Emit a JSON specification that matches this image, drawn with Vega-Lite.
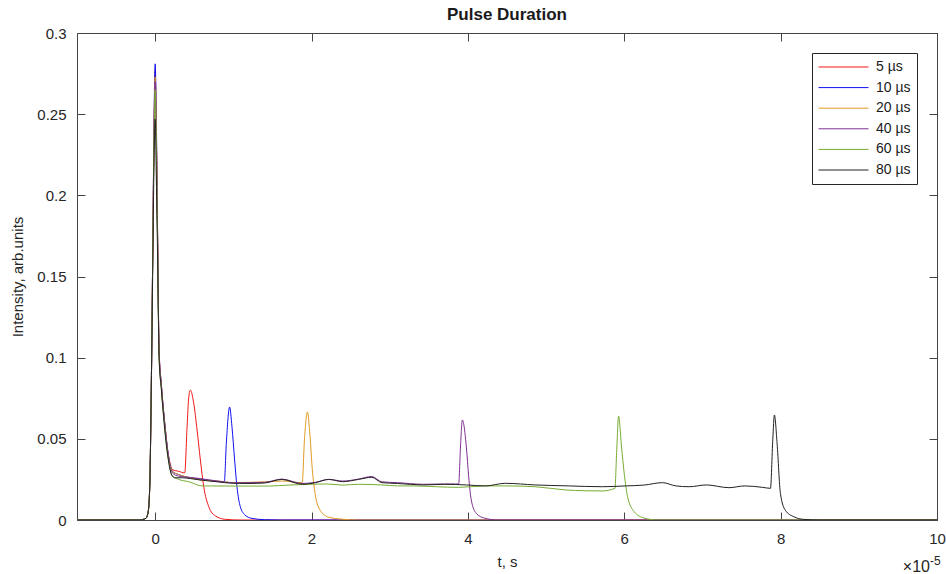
{
  "$schema": "https://vega.github.io/schema/vega-lite/v6.json",
  "width": 860,
  "height": 487,
  "autosize": {"type": "none"},
  "padding": {"left": 77, "top": 33, "right": 9, "bottom": 54},
  "background": "white",
  "title": {"text": "Pulse Duration", "fontSize": 17, "fontWeight": "bold", "font": "Liberation Sans", "color": "#1a1a1a", "anchor": "middle", "frame": "group", "offset": 2},
  "config": {
    "view": {"stroke": null},
    "font": "Liberation Sans",
    "axis": {
      "grid": false,
      "domainColor": "#444444",
      "domainWidth": 1,
      "tickColor": "#444444",
      "tickSize": -8,
      "tickWidth": 1,
      "labelColor": "#262626",
      "labelFont": "Liberation Sans",
      "labelFontSize": 15,
      "titleColor": "#262626",
      "titleFont": "Liberation Sans",
      "titleFontSize": 15,
      "titleFontWeight": "normal"
    }
  },
  "datasets": {
    "pulses": [
      {"s":"5 µs","t":-10,"v":0},{"s":"5 µs","t":-2,"v":0},{"s":"5 µs","t":-1.2,"v":0.001},{"s":"5 µs","t":-0.9,"v":0.005},{"s":"5 µs","t":-0.7,"v":0.02},{"s":"5 µs","t":-0.5,"v":0.08},{"s":"5 µs","t":-0.3,"v":0.17},{"s":"5 µs","t":-0.15,"v":0.24},{"s":"5 µs","t":0,"v":0.277},{"s":"5 µs","t":0.15,"v":0.24},{"s":"5 µs","t":0.3,"v":0.18},{"s":"5 µs","t":0.5,"v":0.105},{"s":"5 µs","t":0.8,"v":0.083},{"s":"5 µs","t":1.0,"v":0.071},{"s":"5 µs","t":1.3,"v":0.056},{"s":"5 µs","t":1.6,"v":0.043},{"s":"5 µs","t":1.9,"v":0.035},{"s":"5 µs","t":2.2,"v":0.031},{"s":"5 µs","t":3.0,"v":0.030},{"s":"5 µs","t":3.78,"v":0.029},{"s":"5 µs","t":4.08,"v":0.0575},{"s":"5 µs","t":4.3,"v":0.076},{"s":"5 µs","t":4.5,"v":0.080},{"s":"5 µs","t":4.93,"v":0.0719},{"s":"5 µs","t":5.36,"v":0.0554},{"s":"5 µs","t":5.78,"v":0.037},{"s":"5 µs","t":6.21,"v":0.0205},{"s":"5 µs","t":6.85,"v":0.0082},{"s":"5 µs","t":7.7,"v":0.0025},{"s":"5 µs","t":8.97,"v":0.0004},{"s":"5 µs","t":11,"v":0},{"s":"5 µs","t":100,"v":0},

      {"s":"10 µs","t":-10,"v":0},{"s":"10 µs","t":-2,"v":0},{"s":"10 µs","t":-1.2,"v":0.001},{"s":"10 µs","t":-0.9,"v":0.005},{"s":"10 µs","t":-0.7,"v":0.02},{"s":"10 µs","t":-0.5,"v":0.08},{"s":"10 µs","t":-0.3,"v":0.17},{"s":"10 µs","t":-0.15,"v":0.245},{"s":"10 µs","t":0,"v":0.281},{"s":"10 µs","t":0.15,"v":0.245},{"s":"10 µs","t":0.3,"v":0.18},{"s":"10 µs","t":0.5,"v":0.105},{"s":"10 µs","t":0.8,"v":0.083},{"s":"10 µs","t":1.0,"v":0.071},{"s":"10 µs","t":1.3,"v":0.056},{"s":"10 µs","t":1.6,"v":0.043},{"s":"10 µs","t":1.9,"v":0.034},{"s":"10 µs","t":2.2,"v":0.030},{"s":"10 µs","t":3.0,"v":0.028},{"s":"10 µs","t":4.5,"v":0.026},{"s":"10 µs","t":6,"v":0.025},{"s":"10 µs","t":7.5,"v":0.024},{"s":"10 µs","t":8.84,"v":0.0235},{"s":"10 µs","t":9.1,"v":0.0472},{"s":"10 µs","t":9.52,"v":0.0696},{"s":"10 µs","t":9.82,"v":0.0575},{"s":"10 µs","t":10.16,"v":0.037},{"s":"10 µs","t":10.46,"v":0.0205},{"s":"10 µs","t":10.89,"v":0.0082},{"s":"10 µs","t":11.5,"v":0.003},{"s":"10 µs","t":12.37,"v":0.001},{"s":"10 µs","t":14,"v":0.0002},{"s":"10 µs","t":16,"v":0},{"s":"10 µs","t":100,"v":0},

      {"s":"20 µs","t":-10,"v":0},{"s":"20 µs","t":-2,"v":0},{"s":"20 µs","t":-1.2,"v":0.001},{"s":"20 µs","t":-0.9,"v":0.005},{"s":"20 µs","t":-0.7,"v":0.02},{"s":"20 µs","t":-0.5,"v":0.08},{"s":"20 µs","t":-0.3,"v":0.17},{"s":"20 µs","t":-0.15,"v":0.238},{"s":"20 µs","t":0,"v":0.273},{"s":"20 µs","t":0.15,"v":0.238},{"s":"20 µs","t":0.3,"v":0.178},{"s":"20 µs","t":0.5,"v":0.104},{"s":"20 µs","t":0.8,"v":0.082},{"s":"20 µs","t":1.0,"v":0.07},{"s":"20 µs","t":1.3,"v":0.055},{"s":"20 µs","t":1.6,"v":0.042},{"s":"20 µs","t":1.9,"v":0.034},{"s":"20 µs","t":2.2,"v":0.030},{"s":"20 µs","t":3,"v":0.028},{"s":"20 µs","t":4.5,"v":0.026},{"s":"20 µs","t":6,"v":0.0245},{"s":"20 µs","t":8,"v":0.024},{"s":"20 µs","t":10,"v":0.023},{"s":"20 µs","t":12,"v":0.0232},{"s":"20 µs","t":14,"v":0.0235},{"s":"20 µs","t":16.2,"v":0.024},{"s":"20 µs","t":18.8,"v":0.023},{"s":"20 µs","t":19.1,"v":0.05},{"s":"20 µs","t":19.47,"v":0.0665},{"s":"20 µs","t":19.8,"v":0.052},{"s":"20 µs","t":20.1,"v":0.031},{"s":"20 µs","t":20.45,"v":0.0164},{"s":"20 µs","t":21.1,"v":0.006},{"s":"20 µs","t":22.15,"v":0.0018},{"s":"20 µs","t":23.9,"v":0.0005},{"s":"20 µs","t":26,"v":0},{"s":"20 µs","t":100,"v":0},

      {"s":"40 µs","t":-10,"v":0},{"s":"40 µs","t":-2,"v":0},{"s":"40 µs","t":-1.2,"v":0.001},{"s":"40 µs","t":-0.9,"v":0.005},{"s":"40 µs","t":-0.7,"v":0.02},{"s":"40 µs","t":-0.5,"v":0.08},{"s":"40 µs","t":-0.3,"v":0.17},{"s":"40 µs","t":-0.15,"v":0.235},{"s":"40 µs","t":0,"v":0.27},{"s":"40 µs","t":0.15,"v":0.235},{"s":"40 µs","t":0.3,"v":0.175},{"s":"40 µs","t":0.5,"v":0.103},{"s":"40 µs","t":0.8,"v":0.082},{"s":"40 µs","t":1.0,"v":0.07},{"s":"40 µs","t":1.3,"v":0.055},{"s":"40 µs","t":1.6,"v":0.042},{"s":"40 µs","t":1.9,"v":0.034},{"s":"40 µs","t":2.2,"v":0.029},{"s":"40 µs","t":3,"v":0.027},{"s":"40 µs","t":5,"v":0.026},{"s":"40 µs","t":8,"v":0.024},{"s":"40 µs","t":10,"v":0.023},{"s":"40 µs","t":12,"v":0.023},{"s":"40 µs","t":14,"v":0.0232},{"s":"40 µs","t":16.2,"v":0.0252},{"s":"40 µs","t":18.8,"v":0.0225},{"s":"40 µs","t":20.5,"v":0.0232},{"s":"40 µs","t":22.2,"v":0.025},{"s":"40 µs","t":24,"v":0.024},{"s":"40 µs","t":26,"v":0.0252},{"s":"40 µs","t":27.7,"v":0.0268},{"s":"40 µs","t":29,"v":0.0235},{"s":"40 µs","t":31,"v":0.023},{"s":"40 µs","t":34.3,"v":0.022},{"s":"40 µs","t":37,"v":0.0222},{"s":"40 µs","t":38.82,"v":0.0222},{"s":"40 µs","t":39.05,"v":0.045},{"s":"40 µs","t":39.29,"v":0.0616},{"s":"40 µs","t":39.8,"v":0.045},{"s":"40 µs","t":40.1,"v":0.0267},{"s":"40 µs","t":40.43,"v":0.0123},{"s":"40 µs","t":41.07,"v":0.0041},{"s":"40 µs","t":42.1,"v":0.0012},{"s":"40 µs","t":43.8,"v":0},{"s":"40 µs","t":100,"v":0},

      {"s":"60 µs","t":-10,"v":0},{"s":"60 µs","t":-2,"v":0},{"s":"60 µs","t":-1.2,"v":0.001},{"s":"60 µs","t":-0.9,"v":0.005},{"s":"60 µs","t":-0.7,"v":0.02},{"s":"60 µs","t":-0.5,"v":0.08},{"s":"60 µs","t":-0.3,"v":0.17},{"s":"60 µs","t":-0.15,"v":0.23},{"s":"60 µs","t":0,"v":0.265},{"s":"60 µs","t":0.15,"v":0.23},{"s":"60 µs","t":0.3,"v":0.172},{"s":"60 µs","t":0.5,"v":0.1},{"s":"60 µs","t":0.8,"v":0.08},{"s":"60 µs","t":1.0,"v":0.068},{"s":"60 µs","t":1.3,"v":0.053},{"s":"60 µs","t":1.6,"v":0.04},{"s":"60 µs","t":1.9,"v":0.032},{"s":"60 µs","t":2.1,"v":0.028},{"s":"60 µs","t":3,"v":0.025},{"s":"60 µs","t":4.3,"v":0.0236},{"s":"60 µs","t":6,"v":0.021},{"s":"60 µs","t":10,"v":0.0209},{"s":"60 µs","t":14.5,"v":0.0209},{"s":"60 µs","t":17,"v":0.0215},{"s":"60 µs","t":19.7,"v":0.022},{"s":"60 µs","t":22,"v":0.0222},{"s":"60 µs","t":24,"v":0.0215},{"s":"60 µs","t":26,"v":0.022},{"s":"60 µs","t":28.95,"v":0.0216},{"s":"60 µs","t":31,"v":0.021},{"s":"60 µs","t":33,"v":0.021},{"s":"60 µs","t":36,"v":0.0205},{"s":"60 µs","t":38.8,"v":0.0201},{"s":"60 µs","t":42.2,"v":0.021},{"s":"60 µs","t":45,"v":0.021},{"s":"60 µs","t":48.6,"v":0.0205},{"s":"60 µs","t":52.5,"v":0.0185},{"s":"60 µs","t":55,"v":0.018},{"s":"60 µs","t":57.2,"v":0.0179},{"s":"60 µs","t":58.8,"v":0.0195},{"s":"60 µs","t":59.05,"v":0.045},{"s":"60 µs","t":59.27,"v":0.064},{"s":"60 µs","t":59.65,"v":0.045},{"s":"60 µs","t":59.99,"v":0.0288},{"s":"60 µs","t":60.42,"v":0.0144},{"s":"60 µs","t":61.27,"v":0.0051},{"s":"60 µs","t":62.54,"v":0.0012},{"s":"60 µs","t":64.25,"v":0},{"s":"60 µs","t":100,"v":0},

      {"s":"80 µs","t":-10,"v":0},{"s":"80 µs","t":-2,"v":0},{"s":"80 µs","t":-1.2,"v":0.001},{"s":"80 µs","t":-0.9,"v":0.005},{"s":"80 µs","t":-0.7,"v":0.02},{"s":"80 µs","t":-0.5,"v":0.08},{"s":"80 µs","t":-0.3,"v":0.16},{"s":"80 µs","t":-0.15,"v":0.22},{"s":"80 µs","t":0,"v":0.247},{"s":"80 µs","t":0.15,"v":0.21},{"s":"80 µs","t":0.3,"v":0.165},{"s":"80 µs","t":0.5,"v":0.1},{"s":"80 µs","t":0.8,"v":0.08},{"s":"80 µs","t":1.0,"v":0.068},{"s":"80 µs","t":1.3,"v":0.052},{"s":"80 µs","t":1.6,"v":0.04},{"s":"80 µs","t":1.9,"v":0.031},{"s":"80 µs","t":2.2,"v":0.027},{"s":"80 µs","t":2.5,"v":0.026},{"s":"80 µs","t":3.5,"v":0.026},{"s":"80 µs","t":4.5,"v":0.0255},{"s":"80 µs","t":6,"v":0.0245},{"s":"80 µs","t":7.8,"v":0.0236},{"s":"80 µs","t":10,"v":0.0226},{"s":"80 µs","t":12,"v":0.0225},{"s":"80 µs","t":14,"v":0.0228},{"s":"80 µs","t":16.2,"v":0.025},{"s":"80 µs","t":18.8,"v":0.022},{"s":"80 µs","t":20.5,"v":0.023},{"s":"80 µs","t":22.2,"v":0.025},{"s":"80 µs","t":24,"v":0.0236},{"s":"80 µs","t":26,"v":0.025},{"s":"80 µs","t":27.7,"v":0.0263},{"s":"80 µs","t":29,"v":0.023},{"s":"80 µs","t":31,"v":0.0225},{"s":"80 µs","t":34.3,"v":0.0216},{"s":"80 µs","t":37,"v":0.022},{"s":"80 µs","t":39.8,"v":0.0216},{"s":"80 µs","t":42.2,"v":0.021},{"s":"80 µs","t":44.8,"v":0.0226},{"s":"80 µs","t":48.6,"v":0.0216},{"s":"80 µs","t":52.9,"v":0.021},{"s":"80 µs","t":57.2,"v":0.0205},{"s":"80 µs","t":60.2,"v":0.021},{"s":"80 µs","t":62.5,"v":0.0215},{"s":"80 µs","t":64.9,"v":0.023},{"s":"80 µs","t":66.6,"v":0.021},{"s":"80 µs","t":68.3,"v":0.0205},{"s":"80 µs","t":70.5,"v":0.0216},{"s":"80 µs","t":73.4,"v":0.0199},{"s":"80 µs","t":75.4,"v":0.021},{"s":"80 µs","t":77.7,"v":0.0201},{"s":"80 µs","t":78.7,"v":0.0195},{"s":"80 µs","t":79.0,"v":0.05},{"s":"80 µs","t":79.2,"v":0.0647},{"s":"80 µs","t":79.55,"v":0.047},{"s":"80 µs","t":79.97,"v":0.0164},{"s":"80 µs","t":80.6,"v":0.006},{"s":"80 µs","t":81.7,"v":0.002},{"s":"80 µs","t":82.9,"v":0.0004},{"s":"80 µs","t":85,"v":0},{"s":"80 µs","t":100,"v":0}
    ],
    "note": [{"base": "×10", "exp": "-5"}]
  },
  "layer": [
    {
      "data": {"name": "pulses"},
      "mark": {"type": "line", "strokeWidth": 1, "clip": true, "interpolate": "monotone"},
      "encoding": {
        "x": {"field": "t", "type": "quantitative",
              "scale": {"domain": [-10, 100], "nice": false, "zero": false},
              "axis": {"orient": "bottom", "values": [0, 20, 40, 60, 80, 100], "labelExpr": "'' + round(datum.value / 10)", "labelPadding": 19, "title": "t, s", "titlePadding": 8, "labelFlush": false}},
        "y": {"field": "v", "type": "quantitative",
              "scale": {"domain": [0, 0.3], "nice": false, "zero": true},
              "axis": {"orient": "left", "values": [0, 0.05, 0.1, 0.15, 0.2, 0.25, 0.3], "labelExpr": "'' + datum.value", "labelPadding": 19, "title": "Intensity, arb.units", "titlePadding": 11}},
        "color": {"field": "s", "type": "nominal",
                  "scale": {"domain": ["5 µs", "10 µs", "20 µs", "40 µs", "60 µs", "80 µs"],
                            "range": ["#f01818", "#1010f0", "#e09a20", "#7e2f8e", "#77ac30", "#222222"]},
                  "legend": {"orient": "none", "legendX": 735, "legendY": 20, "title": null,
                             "symbolType": "stroke", "symbolSize": 2500, "symbolStrokeWidth": 1,
                             "clipHeight": 16, "rowPadding": 4.6, "labelOffset": 7,
                             "labelFontSize": 14, "labelFont": "Liberation Sans", "labelColor": "#1a1a1a",
                             "padding": 6, "strokeColor": "#262626", "fillColor": "white", "cornerRadius": 0}}
      }
    },
    {
      "data": {"name": "pulses"},
      "mark": {"type": "line", "opacity": 0},
      "encoding": {
        "x": {"field": "t", "type": "quantitative",
              "axis": {"orient": "top", "values": [0, 20, 40, 60, 80, 100], "labels": false, "title": null}},
        "y": {"field": "v", "type": "quantitative",
              "axis": {"orient": "right", "values": [0, 0.05, 0.1, 0.15, 0.2, 0.25, 0.3], "labels": false, "title": null}},
        "detail": {"field": "s", "type": "nominal"}
      }
    },
    {
      "data": {"name": "note"},
      "mark": {"type": "text", "align": "right", "baseline": "alphabetic", "dx": -7, "dy": 52, "fontSize": 16, "font": "Liberation Sans", "color": "#262626"},
      "encoding": {
        "x": {"datum": 100, "type": "quantitative", "axis": null},
        "y": {"datum": 0, "type": "quantitative", "axis": null},
        "text": {"field": "base"}
      }
    },
    {
      "data": {"name": "note"},
      "mark": {"type": "text", "align": "left", "baseline": "alphabetic", "dx": -7, "dy": 45, "fontSize": 12, "font": "Liberation Sans", "color": "#262626"},
      "encoding": {
        "x": {"datum": 100, "type": "quantitative", "axis": null},
        "y": {"datum": 0, "type": "quantitative", "axis": null},
        "text": {"field": "exp"}
      }
    }
  ],
  "resolve": {"axis": {"x": "independent", "y": "independent"}}
}
